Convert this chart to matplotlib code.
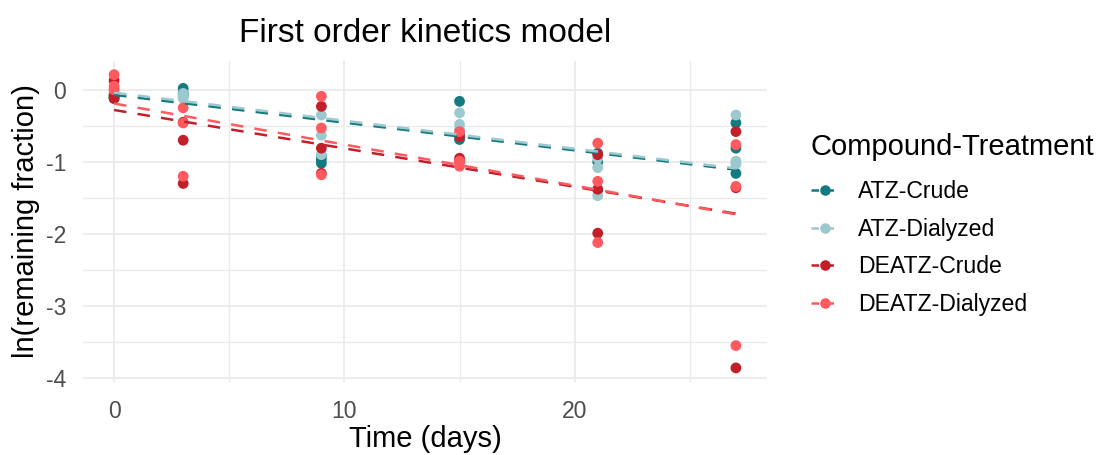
import matplotlib
matplotlib.use("Agg")
import matplotlib.pyplot as plt
from matplotlib.lines import Line2D
import numpy as np

plt.rcParams['font.family'] = ['Liberation Sans', 'DejaVu Sans']

groups = ["ATZ-Crude", "ATZ-Dialyzed", "DEATZ-Crude", "DEATZ-Dialyzed"]
colors = ["#137a7f", "#9cc9cf", "#c21f29", "#ff5a60"]

times = [0, 3, 9, 15, 21, 27]

# ln(remaining fraction), three replicates per time point
atz_crude = [[-0.10, -0.12, -0.08], [0.02, -0.04, -0.08], [-0.97, -1.02, -0.92],
             [-0.16, -0.69, -0.62], [-0.88, -1.39, -1.00], [-0.46, -0.81, -1.16]]
atz_dialyzed = [[-0.05, -0.10, -0.07], [-0.05, -0.10, -0.12], [-0.35, -0.63, -0.90],
                [-0.32, -0.48, -0.55], [-1.08, -1.47, -0.95], [-0.35, -0.99, -1.03]]
deatz_crude = [[0.13, -0.08, -0.12], [-0.70, -1.30, -0.45], [-0.23, -0.81, -1.16],
               [-0.65, -0.95, -1.00], [-0.90, -1.99, -1.38], [-0.58, -1.36, -3.86]]
deatz_dialyzed = [[0.21, 0.05, 0.00], [-0.25, -0.46, -1.20], [-0.09, -0.53, -1.18],
                  [-0.58, -0.99, -1.06], [-0.74, -1.27, -2.12], [-0.76, -1.34, -3.55]]
values = [atz_crude, atz_dialyzed, deatz_crude, deatz_dialyzed]

# first order kinetics fits: ln(C/C0) = intercept + slope * t
intercepts = [-0.07, -0.04, -0.28, -0.19]
slopes = [-0.0385, -0.0389, -0.0533, -0.0570]

fig = plt.figure(figsize=(11.07, 4.55), dpi=100)
ax = fig.add_axes([83/1107, (455-381.6)/455, (767-83)/1107, (381.6-61)/455])

for g, c, vals in zip(groups, colors, values):
    xs = np.repeat(times, 3)
    ys = np.array(vals).ravel()
    ax.scatter(xs, ys, s=60, color=c, edgecolors='none', zorder=3)

tfit = np.array([times[0], times[-1]])
for c, b0, b1 in zip(colors, intercepts, slopes):
    ax.plot(tfit, b0 + b1 * tfit, color=c, lw=1.8, linestyle=(0, (5.0, 4.5)), zorder=4)

ax.set_xlim(-1.35, 28.35)
ax.set_ylim(-4.05, 0.4)
ax.set_xticks([0, 10, 20])
ax.set_yticks([0, -1, -2, -3, -4])
ax.set_yticklabels(["0", "-1", "-2", "-3", "-4"])
ax.set_xticks([5, 15, 25], minor=True)
ax.set_yticks([-0.5, -1.5, -2.5, -3.5], minor=True)
ax.grid(True, which='major', color='#ebebeb', lw=1.3)
ax.grid(True, which='minor', color='#ebebeb', lw=1.0)
ax.set_axisbelow(True)
for s in ax.spines.values():
    s.set_visible(False)
ax.tick_params(which='both', length=0, labelsize=16.5, labelcolor='#4d4d4d')
ax.tick_params(axis='x', pad=13)
ax.tick_params(axis='y', pad=12)

ax.set_xlabel("Time (days)", fontsize=21, labelpad=2)
ax.set_ylabel("ln(remaining fraction)", fontsize=21, labelpad=4)
ax.set_title("First order kinetics model", fontsize=24, pad=14)

handles = [Line2D([0], [0], color=c, lw=1.8, linestyle=(0, (3.0, 3.0)), marker='o',
                  markersize=7.6, markeredgewidth=0) for c in colors]
leg = fig.legend(handles, groups, loc='upper left', bbox_to_anchor=(811/1107, 1 - 133/455),
                 frameon=False, fontsize=16.6, title="Compound-Treatment", title_fontsize=21,
                 handlelength=1.2, labelspacing=0.63, handletextpad=0.85, borderpad=0,
                 borderaxespad=0)
leg._legend_box.align = "left"
leg._legend_box.sep = 14

fig.savefig("out.png", dpi=100)
